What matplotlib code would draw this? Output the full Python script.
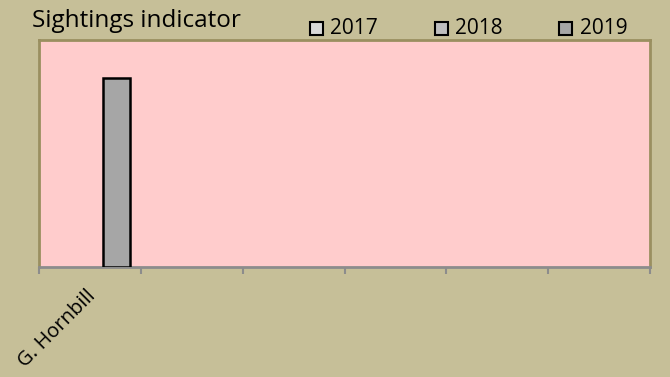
import matplotlib
matplotlib.use("Agg")
import matplotlib.pyplot as plt
import numpy as np

categories = ["G. Hornbill", "", "", "", "", ""]
series_names = ["2017", "2018", "2019"]
values_2017 = [0, 0, 0, 0, 0, 0]
values_2018 = [0, 0, 0, 0, 0, 0]
values_2019 = [5, 0, 0, 0, 0, 0]
colors = ["#D9D9D9", "#BFBFBF", "#A6A6A6"]

W, H = 670, 377
fig = plt.figure(figsize=(W / 100, H / 100), dpi=100)
fig.patch.set_facecolor("#C6BF98")
plt.rcParams['font.family'] = ['Open Sans', 'DejaVu Sans']

left, right, top, bottom = 39, 650, 40, 267
ax = fig.add_axes([left / W, 1 - bottom / H, (right - left) / W, (bottom - top) / H])
ax.set_facecolor("#FFCCCC")

n = len(categories)
x = np.arange(n)
bw = 0.265
series = [values_2017, values_2018, values_2019]
for i, (vals, name, c) in enumerate(zip(series, series_names, colors)):
    vs = np.array(vals, dtype=float)
    mask = vs > 0
    ax.bar(x[mask] + (i - 1) * bw, vs[mask], width=bw, color=c,
           edgecolor="black", linewidth=1.8, label=name, zorder=3)

ax.set_xlim(-0.5, n - 0.5)
ax.set_ylim(0, 6)
ax.set_yticks([])
ax.set_xticks(np.arange(n + 1) - 0.5, minor=True)
ax.set_xticks(x)
ax.tick_params(axis="x", which="major", length=0, pad=6)
ax.tick_params(axis="x", which="minor", length=5, width=1.5, color="#8C8C8C")
ax.set_xticklabels([])
for s in ["left", "top", "right"]:
    ax.spines[s].set_color("#9A8F60")
    ax.spines[s].set_linewidth(2)
ax.spines["bottom"].set_color("#8C8C8C")
ax.spines["bottom"].set_linewidth(2)

# category labels
for xi, lab in zip(x, categories):
    if lab:
        ax.text(xi - 0.04, -0.085, lab, transform=ax.get_xaxis_transform(),
                rotation=45, ha="right", va="top", rotation_mode="anchor",
                fontsize=14.5, color="black")

fig.text(32 / W, 1 - 27 / H, "Sightings indicator", fontsize=17.5,
         ha="left", va="baseline", color="black")

# legend
sq_x = [310, 435, 559]
tx_x = [330, 455, 580]
for sx, tx, name, c in zip(sq_x, tx_x, series_names, colors):
    fig.patches.append(matplotlib.patches.Rectangle(
        (sx / W, 1 - 35 / H), 13 / W, 13 / H, transform=fig.transFigure,
        facecolor=c, edgecolor="black", linewidth=1.5))
    fig.text(tx / W, 1 - 34 / H, name, fontsize=15,
             ha="left", va="baseline", color="black")

fig.savefig("out.png", dpi=100, facecolor=fig.get_facecolor())
